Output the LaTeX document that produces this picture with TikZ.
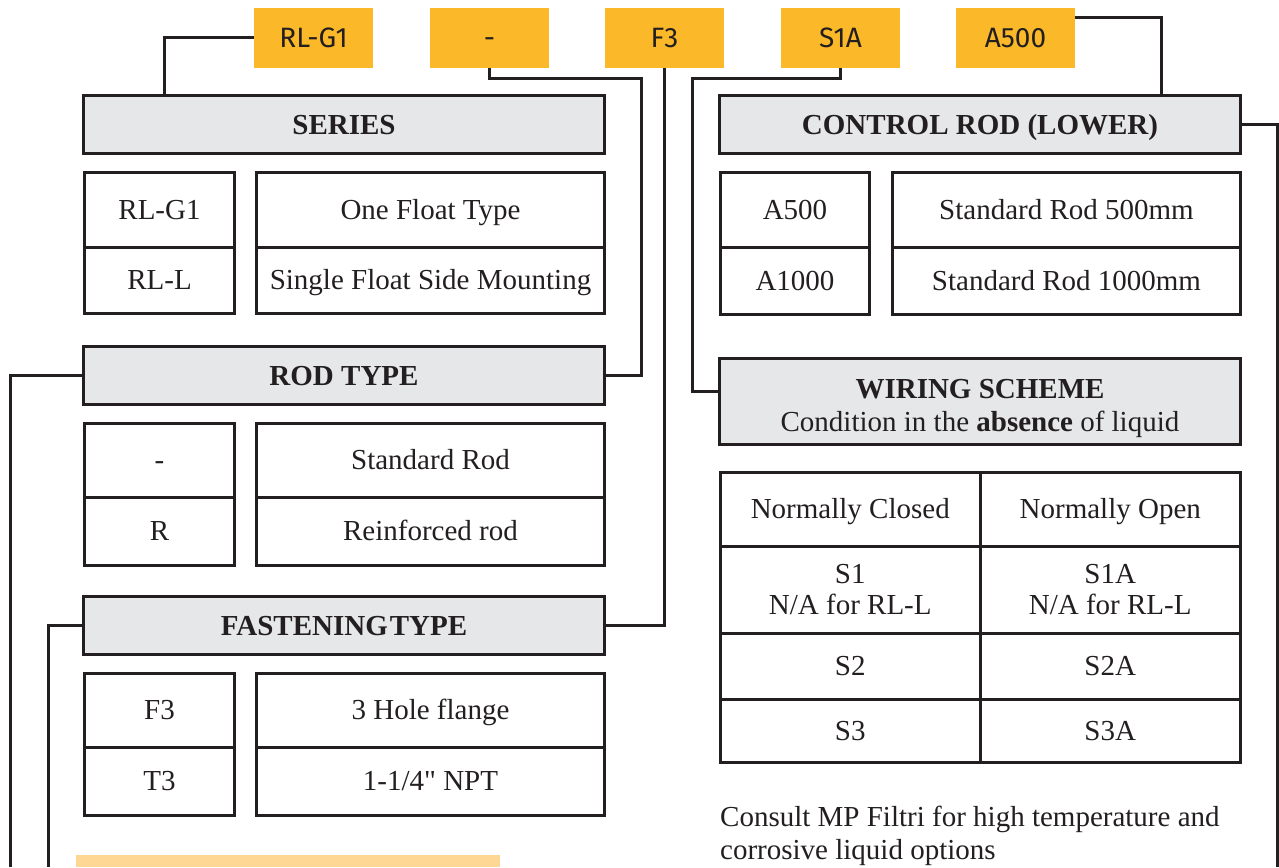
\documentclass[tikz,border=0pt]{standalone}
\usepackage{fontspec}
\setmainfont{Liberation Serif}
\newfontfamily\nolig[Ligatures=ResetAll]{Liberation Serif}
\newfontfamily\codefont{Fira Sans}
\definecolor{ink}{HTML}{231F20}
\definecolor{codeor}{HTML}{FBB829}
\definecolor{headgr}{HTML}{E6E7E8}
\definecolor{lightor}{HTML}{FDD793}
\tikzset{
  codebox/.style={fill=codeor, inner sep=0pt, text=ink, font=\codefont\fontsize{28}{32}\selectfont},
  headbox/.style={draw=ink, fill=headgr, line width=3pt, inner sep=0pt, text=ink, align=center, font=\fontsize{29}{32}\selectfont},
  cellbox/.style={draw=ink, line width=3pt, inner sep=0pt, text=ink, align=center, font=\fontsize{29}{31}\selectfont},
  oneline/.style={text height=19pt, text depth=0pt},
  conn/.style={draw=ink, line width=3pt},
  note/.style={text=ink, inner sep=0pt, align=left, anchor=north west, font=\fontsize{29}{33}\selectfont}
}
\newcommand\mybox[7][]{%
  \pgfmathsetmacro\bxw{#5-#3}\pgfmathsetmacro\bxh{#6-#4}%
  \node[#1, minimum width=\bxw pt, minimum height=\bxh pt] (#2) at ({(#3+#5)/2},{(#4+#6)/2}) {#7};}
\begin{document}
\begin{tikzpicture}[x=1pt,y=-1pt]
\useasboundingbox[fill=white] (0,0) rectangle (1279,867);
% code boxes
\mybox[codebox,oneline]{c1}{254}{8}{373}{68}{RL-G1}
\mybox[codebox,oneline]{c2}{430}{8}{549}{68}{-}
\mybox[codebox,oneline]{c3}{605}{8}{724}{68}{F3}
\mybox[codebox,oneline]{c4}{781}{8}{900}{68}{S1A}
\mybox[codebox,oneline]{c5}{956}{8}{1075}{68}{A500}
% left column
\mybox[headbox,oneline]{series}{83.5}{95.5}{604.5}{153.5}{\bfseries SERIES}
\mybox[cellbox,oneline]{s1l}{84.5}{172.5}{234.5}{247}{RL-G1}
\mybox[cellbox,oneline]{s2l}{84.5}{247}{234.5}{313.5}{RL-L}
\mybox[cellbox,oneline]{s1r}{256.5}{172.5}{604.5}{247}{One Float Type}
\mybox[cellbox,oneline]{s2r}{256.5}{247}{604.5}{313.5}{Single Float Side Mounting}
\mybox[headbox,oneline]{rodtype}{83.5}{346.5}{604.5}{404.5}{\bfseries ROD TYPE}
\mybox[cellbox,oneline]{r1l}{84.5}{423.5}{234.5}{497}{-}
\mybox[cellbox,oneline]{r2l}{84.5}{497}{234.5}{565.5}{R}
\mybox[cellbox,oneline]{r1r}{256.5}{423.5}{604.5}{497}{Standard Rod}
\mybox[cellbox,oneline]{r2r}{256.5}{497}{604.5}{565.5}{Reinforced rod}
\mybox[headbox,oneline]{fasten}{83.5}{596.5}{604.5}{654.5}{\bfseries FASTENING\hspace{2pt}TYPE}
\mybox[cellbox,oneline]{f1l}{84.5}{673.5}{234.5}{747}{F3}
\mybox[cellbox,oneline]{f2l}{84.5}{747}{234.5}{815.5}{T3}
\mybox[cellbox,oneline]{f1r}{256.5}{673.5}{604.5}{747}{3 Hole flange}
\mybox[cellbox,oneline]{f2r}{256.5}{747}{604.5}{815.5}{1-1/4{\nolig"} NPT}
\fill[lightor] (76,855) rectangle (500,867);
% right column
\mybox[headbox,oneline]{ctrl}{719.5}{95.5}{1240.5}{153.5}{\bfseries CONTROL ROD (LOWER)}
\mybox[cellbox,oneline]{a1l}{720.5}{172.5}{869.5}{247}{A500}
\mybox[cellbox,oneline]{a2l}{720.5}{247}{869.5}{314.5}{A1000}
\mybox[cellbox,oneline]{a1r}{892.5}{172.5}{1240.5}{247}{Standard Rod 500mm}
\mybox[cellbox,oneline]{a2r}{892.5}{247}{1240.5}{314.5}{Standard Rod 1000mm}
\mybox[headbox]{wiring}{719.5}{358.5}{1240.5}{444.5}{\rule{0pt}{33pt}\textbf{WIRING SCHEME}\\[1pt]Condition in the \textbf{absence} of liquid}
\mybox[cellbox,oneline]{w1l}{720.5}{472.5}{980}{546}{Normally Closed}
\mybox[cellbox,oneline]{w1r}{980}{472.5}{1240.5}{546}{Normally Open}
\mybox[cellbox]{w2l}{720.5}{546}{980}{633}{S1\\N/A for RL-L}
\mybox[cellbox]{w2r}{980}{546}{1240.5}{633}{S1A\\N/A for RL-L}
\mybox[cellbox,oneline]{w3l}{720.5}{633}{980}{699}{S2}
\mybox[cellbox,oneline]{w3r}{980}{633}{1240.5}{699}{S2A}
\mybox[cellbox,oneline]{w4l}{720.5}{699}{980}{762.5}{S3}
\mybox[cellbox,oneline]{w4r}{980}{699}{1240.5}{762.5}{S3A}
\node[note] (consult) at (720,806) {Consult MP Filtri for high temperature and\\corrosive liquid options};
% connectors
\coordinate (j2) at (641,78);
\coordinate (j4) at (692,78);
\coordinate (ectrl) at (1277,867);
\coordinate (erod) at (10,867);
\coordinate (efas) at (48,867);
\draw[conn] (c1.west) -| ([xshift=82.5pt]series.north west);
\draw[conn] (c2.south) |- (j2) |- (rodtype.east);
\draw[conn] (c3.south) |- (fasten.east);
\draw[conn] (c4.south) |- (j4) |- ([yshift=10.5pt]wiring.west);
\draw[conn] ([yshift=20pt]c5.east) -| ([xshift=-80.5pt]ctrl.north east);
\draw[conn] (ctrl.east) -| (ectrl);
\draw[conn] (rodtype.west) -| (erod);
\draw[conn] (fasten.west) -| (efas);
\end{tikzpicture}
\end{document}
